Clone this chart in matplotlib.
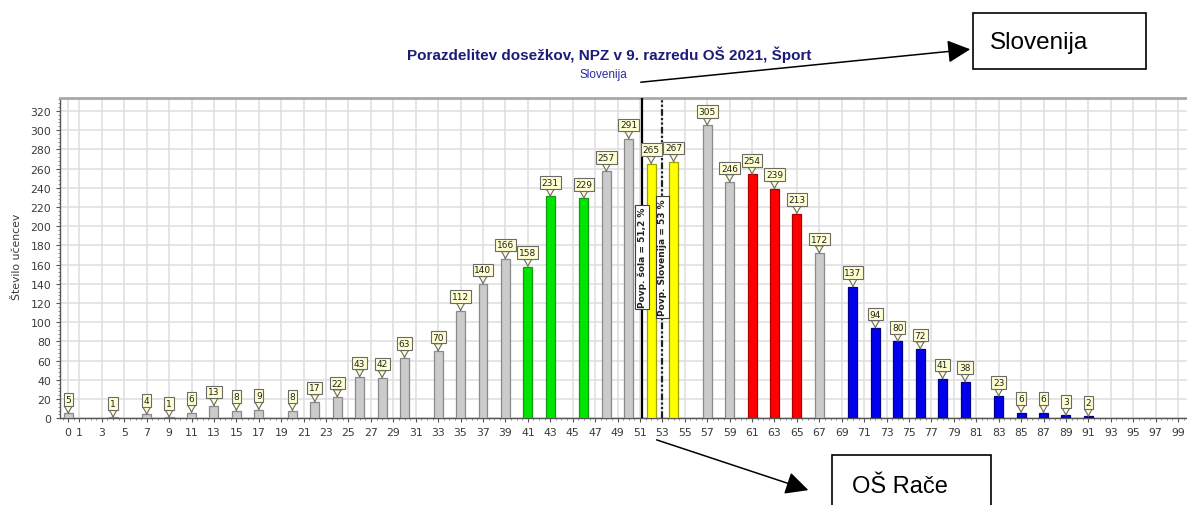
import matplotlib
matplotlib.use("Agg")
import matplotlib.pyplot as plt
from matplotlib.ticker import MultipleLocator, FixedLocator
from matplotlib.patches import Rectangle, FancyArrowPatch

# score position (%) of each bar, number of students, colour group
positions = [0, 4, 7, 9, 11, 13, 15, 17, 20, 22, 24, 26, 28, 30, 33, 35, 37, 39,
             41, 43, 46, 48, 50, 52, 54, 57, 59, 61, 63, 65, 67,
             70, 72, 74, 76, 78, 80, 83, 85, 87, 89, 91]
counts = [5, 1, 4, 1, 6, 13, 8, 9, 8, 17, 22, 43, 42, 63, 70, 112, 140, 166,
          158, 231, 229, 257, 291, 265, 267, 305, 246, 254, 239, 213, 172,
          137, 94, 80, 72, 41, 38, 23, 6, 6, 3, 2]
groups = (["gray"] * 18 + ["green"] * 3 + ["gray"] * 2 + ["yellow"] * 2
          + ["gray"] * 2 + ["red"] * 3 + ["gray"] + ["blue"] * 11)

xtick_labels = [0, 1] + list(range(3, 100, 2))
yticks = list(range(0, 321, 20))

school_avg = 51.2
slo_avg = 53

fills = {"gray": "#cbcbcb", "green": "#00e600", "yellow": "#ffff00",
         "red": "#ff0000", "blue": "#0000ee"}
edges = {"gray": "#8a8a8a", "green": "#139a13", "yellow": "#a0a000",
         "red": "#b00000", "blue": "#00008a"}

W, H = 1187, 506
fig = plt.figure(figsize=(W / 100, H / 100), dpi=100)
ax = fig.add_axes([59.5 / W, 1 - 419.3 / H, 1 - 59.5 / W, (419.3 - 99) / H])

ax.set_xlim(-0.78, 99.8)
ax.set_ylim(0, 333.5)

ax.bar(positions, counts, width=0.8,
       color=[fills[g] for g in groups],
       edgecolor=[edges[g] for g in groups], linewidth=0.9, zorder=3)

for x, v in zip(positions, counts):
    ax.annotate(str(v), xy=(x, v), xytext=(0, 14), textcoords="offset pixels",
                ha="center", va="center", fontsize=6.5, color="#202020",
                bbox=dict(boxstyle="square,pad=0.2", fc="#ffffd2", ec="#6a6a6a", lw=0.8),
                arrowprops=dict(arrowstyle="wedge,tail_width=0.9,shrink_factor=0.4",
                                fc="#ffffd2", ec="#6a6a6a", lw=0.8, relpos=(0.5, 0.1),
                                shrinkA=0, shrinkB=0),
                zorder=6)

# average lines
ax.axvline(school_avg, color="black", lw=1.6, zorder=4)
ax.axvline(slo_avg, color="#202020", lw=1.6, linestyle=(0, (3, 1, 1, 1, 1, 1)), zorder=4)
ax.text(school_avg, 168, "Povp. šola = 51,2 %", rotation=90, ha="center", va="center",
        fontsize=6.5, fontweight="semibold", color="#202020", zorder=7,
        bbox=dict(boxstyle="square,pad=0.25", fc="white", ec="#404040", lw=0.8))
ax.text(slo_avg, 168, "Povp. Slovenija = 53 %", rotation=90, ha="center", va="center",
        fontsize=6.5, fontweight="semibold", color="#202020", zorder=7,
        bbox=dict(boxstyle="square,pad=0.25", fc="white", ec="#404040", lw=0.8))

ax.xaxis.set_major_locator(FixedLocator(xtick_labels))
ax.set_xticklabels([str(t) for t in xtick_labels])
ax.xaxis.set_minor_locator(MultipleLocator(0.5))
ax.set_yticks(yticks)
ax.yaxis.set_minor_locator(MultipleLocator(4))
ax.tick_params(axis="both", which="major", labelsize=7.8, labelcolor="#3a3a3a",
               color="#555555", length=3, pad=3)
ax.tick_params(axis="both", which="minor", color="#777777", length=1.5)

ax.grid(True, which="major", color="#dedede", lw=1.1, zorder=0)
ax.set_axisbelow(True)

for s in ["left", "bottom"]:
    ax.spines[s].set_color("#555555")
    ax.spines[s].set_linewidth(1.0)
ax.spines["top"].set_color("#a8a8a8")
ax.spines["top"].set_linewidth(2.0)
ax.spines["right"].set_visible(False)

# titles
fig.text(609 / W, 1 - 55 / H, "Porazdelitev dosežkov, NPZ v 9. razredu OŠ 2021, Šport",
         ha="center", va="center", fontsize=11, fontweight="bold",
         color="#1c1c78", family="Liberation Sans")
fig.text(603 / W, 1 - 75 / H, "Slovenija", ha="center", va="center",
         fontsize=8.5, color="#2a2aa0", family="Liberation Sans")
fig.text(17 / W, 1 - 257 / H, "Število učencev", rotation=90, ha="center", va="center",
         fontsize=7.8, color="#3a3a3a")

# call-out boxes with arrows
def px(x, y):
    return (x / W, 1 - y / H)

fig.add_artist(Rectangle(px(973, 69.5), 172.5 / W, 55.5 / H, transform=fig.transFigure,
                         fc="white", ec="black", lw=1.2))
fig.text(990 / W, 1 - 43 / H, "Slovenija", ha="left", va="center", fontsize=17.5,
         color="black", family="Liberation Sans")
fig.add_artist(FancyArrowPatch(px(638, 83.5), px(973, 50), transform=fig.transFigure,
                               arrowstyle="-|>,head_length=1.0,head_width=0.5",
                               mutation_scale=14, color="black", lw=1.1))

fig.add_artist(Rectangle(px(832, 510), 159 / W, 54 / H, transform=fig.transFigure,
                         fc="white", ec="black", lw=1.2, clip_on=False))
fig.text(852 / W, 1 - 487 / H, "OŠ Rače", ha="left", va="center", fontsize=17,
         color="black", family="Liberation Sans")
fig.add_artist(FancyArrowPatch(px(654, 440), px(811, 492), transform=fig.transFigure,
                               arrowstyle="-|>,head_length=1.0,head_width=0.5",
                               mutation_scale=14, color="black", lw=1.1))

fig.savefig("out.png", dpi=100)
